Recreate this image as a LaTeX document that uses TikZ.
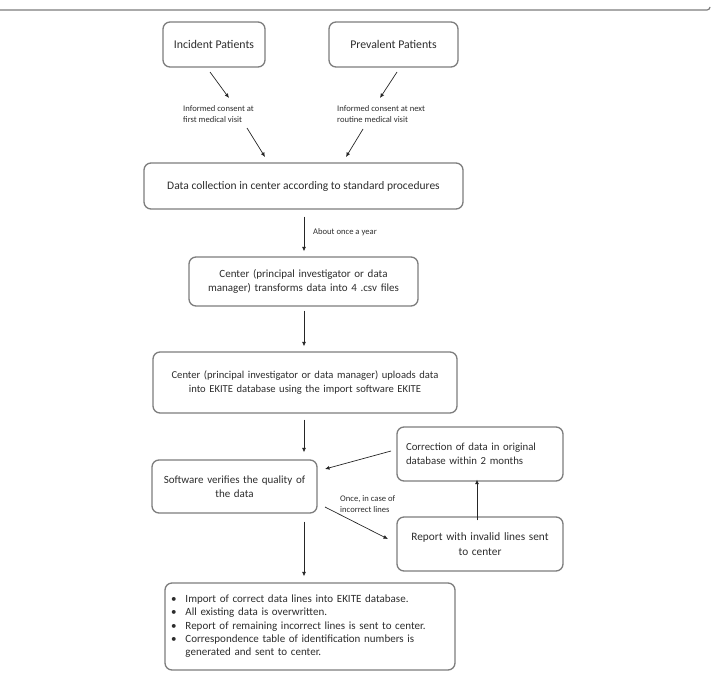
\documentclass[tikz,border=0pt]{standalone}
\usepackage{fontspec}
\setmainfont{Carlito}
\usetikzlibrary{arrows.meta}
\definecolor{boxline}{RGB}{125,125,125}
\definecolor{txt}{RGB}{45,45,45}
\newcommand{\fs}[1]{\fontsize{#1}{14.5}\selectfont}
\tikzset{
  box/.style={draw=boxline, line width=1.3pt, rounded corners=7pt, fill=white,
    text=txt, align=center, inner sep=2pt, font=\fs{11}},
  lbl/.style={text=txt, align=left, inner sep=0pt, font=\fontsize{8.6}{11}\selectfont},
  arr/.style={draw=black!85, line width=0.7pt, -{Latex[length=4.5pt,width=4pt]}}
}
\begin{document}
\begin{tikzpicture}[x=1pt,y=-1pt]
\useasboundingbox (0,0) rectangle (711,680);
\draw[boxline, line width=1.2pt] (0,10) -- (707,10) arc[start angle=90,end angle=0,radius=3];
% boxes
\node[box, font=\fs{11.8}, minimum width=102pt, minimum height=45pt] (inc) at (214,44.5) {Incident Patients};
\node[box, font=\fs{11.8}, minimum width=129pt, minimum height=45pt] (prev) at (393.5,44.5) {Prevalent Patients};
\node[box, font=\fs{11.5}, minimum width=319pt, minimum height=46pt] (coll) at (303.5,186) {Data collection in center according to standard procedures};
\node[box, minimum width=229pt, minimum height=49pt, text width=222pt] (trans) at (303.5,281.5) {Center (principal investigator or data\\manager) transforms data into 4 .csv files};
\node[box, font=\fs{10.6}, minimum width=304pt, minimum height=61pt, text width=298pt] (upl) at (305,382.5) {Center (principal investigator or data manager) uploads data\\into EKITE database using the import software EKITE};
\node[box, minimum width=165pt, minimum height=53pt, text width=158pt] (soft) at (234.5,486.5) {Software verifies the quality of\\the data};
\node[box, font=\fs{10.8}, minimum width=166pt, minimum height=54pt, text width=148pt, align=left] (corr) at (480,454) {Correction of data in original\\database within 2 months};
\node[box, font=\fs{11.3}, minimum width=166pt, minimum height=54pt, text width=158pt] (rep) at (480,544) {Report with invalid lines sent\\to center};
\node[box, minimum width=290pt, minimum height=87pt, text width=282pt, align=left,
  font=\fontsize{11}{13.3}\selectfont] (bot) at (310,626.5) {%
  \begin{tabular}{@{\hspace{2pt}}c@{\hspace{9pt}}l@{}}
  \textbullet & Import of correct data lines into EKITE database.\\
  \textbullet & All existing data is overwritten.\\
  \textbullet & Report of remaining incorrect lines is sent to center.\\
  \textbullet & Correspondence table of identification numbers is\\
   & generated and sent to center.
  \end{tabular}};
% labels
\node[lbl, anchor=west] (l1) at (183,114.5) {Informed consent at\\first medical visit};
\node[lbl, anchor=west] (l2) at (337,114.5) {Informed consent at next\\routine medical visit};
\node[lbl, anchor=west] (l3) at (313,232) {About once a year};
\node[lbl, anchor=west] (l4) at (340,504) {Once, in case of\\incorrect lines};
% connector end points
\coordinate (a1s) at (210,72);  \coordinate (a1e) at (229,98);
\coordinate (a2s) at (247,128); \coordinate (a2e) at (265,157);
\coordinate (a3s) at (397,72);  \coordinate (a3e) at (380,98);
\coordinate (a4s) at (363,129); \coordinate (a4e) at (346,157);
\draw[arr] (a1s) -- (a1e);
\draw[arr] (a2s) -- (a2e);
\draw[arr] (a3s) -- (a3e);
\draw[arr] (a4s) -- (a4e);
\draw[arr] ([yshift=-7pt]coll.south -| 304,0) -- ([yshift=5pt]trans.north -| 304,0);
\draw[arr] ([yshift=-4pt]trans.south -| 304,0) -- ([yshift=5pt]upl.north -| 304,0);
\draw[arr] ([yshift=-6pt]upl.south -| 304,0) -- ([yshift=7pt]soft.north -| 304,0);
\draw[arr] ([yshift=-8pt]soft.south -| 304,0) -- ([yshift=6pt]bot.north -| 304,0);
\coordinate (c1s) at (391,451); \coordinate (c1e) at (325,469);
\draw[arr] (c1s) -- (c1e);
\coordinate (c2s) at (325,507); \coordinate (c2e) at (388,539);
\draw[arr] (c2s) -- (c2e);
\draw[arr] ([yshift=-4pt]rep.north -| 477,0) -- ([yshift=2pt]corr.south -| 477,0);
\end{tikzpicture}
\end{document}
